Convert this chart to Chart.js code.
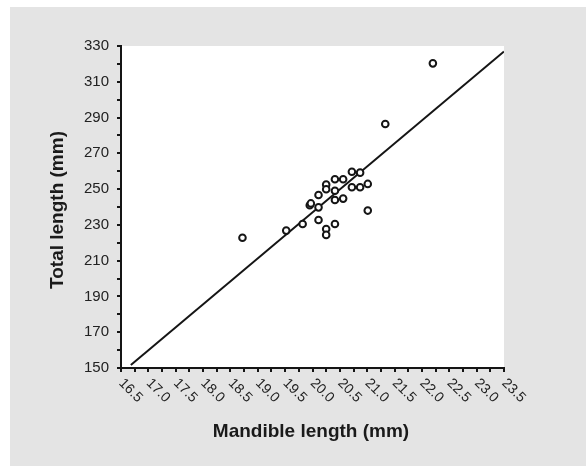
<!DOCTYPE html>
<html>
<head>
<meta charset="utf-8">
<script src="https://cdn.jsdelivr.net/npm/chart.js@4"></script>
<style>
    html, body { margin: 0; padding: 0; background: #ffffff; }
    #wrap { position: absolute; left: 10px; top: 7px; width: 576px; height: 459px; background: #e4e4e4; }
    canvas { display: block; }
</style>
</head>
<body>
<div id="wrap"><canvas id="chart" width="576" height="459"></canvas></div>
<script>
// ============= DATA =============
const mandibleLength = [18.72, 19.52, 19.82, 19.95, 19.97, 20.11, 20.11, 20.11, 20.25, 20.25, 20.25, 20.25,
    20.41, 20.41, 20.41, 20.41, 20.56, 20.56, 20.72, 20.72, 20.87, 20.87, 21.01, 21.01, 21.33, 22.2];
const totalLength = [222.8, 226.8, 230.5, 241.0, 242.0, 239.8, 246.7, 232.7, 227.7, 224.4, 252.5, 249.9,
    255.5, 249.1, 243.9, 230.5, 255.5, 244.7, 259.7, 251.0, 259.2, 251.0, 252.9, 238.0, 286.4, 320.3];

// regression line end points
const fitX = [16.68, 23.5];
const fitY = [151.7, 326.9];

const xTickLabels = ['16.5', '17.0', '17.5', '18.0', '18.5', '19.0', '19.5', '20.0',
    '20.5', '21.0', '21.5', '22.0', '22.5', '23.0', '23.5'];

const FONT = 'Liberation Sans, Arial, sans-serif';

// ============= PLUGINS =============
const plotBackground = {
    id: 'plotBackground',
    beforeDraw(chart) {
        const { ctx, chartArea } = chart;
        ctx.save();
        ctx.fillStyle = '#ffffff';
        ctx.fillRect(chartArea.left, chartArea.top, chartArea.right - chartArea.left, chartArea.bottom - chartArea.top);
        ctx.restore();
    }
};

// rotated x labels + axis titles
const axisText = {
    id: 'axisText',
    afterDraw(chart) {
        const { ctx, chartArea } = chart;
        const xs = chart.scales.x;
        ctx.save();
        ctx.fillStyle = '#222222';
        ctx.font = '14px ' + FONT;
        ctx.textAlign = 'left';
        ctx.textBaseline = 'middle';
        xTickLabels.forEach(label => {
            const px = xs.getPixelForValue(parseFloat(label));
            ctx.save();
            ctx.translate(px, chartArea.bottom + 13);
            ctx.rotate(45 * Math.PI / 180);
            ctx.fillText(label, 0, 0);
            ctx.restore();
        });

        ctx.fillStyle = '#1a1a1a';
        ctx.font = 'bold 19px ' + FONT;
        ctx.textAlign = 'center';
        ctx.textBaseline = 'middle';
        ctx.fillText('Mandible length (mm)', 301, 425);

        ctx.save();
        ctx.translate(48, 203);
        ctx.rotate(-Math.PI / 2);
        ctx.fillText('Total length (mm)', 0, 0);
        ctx.restore();
        ctx.restore();
    }
};

// ============= CHART =============
const ctx = document.getElementById('chart').getContext('2d');
const chart = new Chart(ctx, {
    type: 'scatter',
    data: {
        datasets: [
            {
                label: 'Specimens',
                data: mandibleLength.map((x, i) => ({ x: x, y: totalLength[i] })),
                pointStyle: 'circle',
                pointRadius: 3.3,
                pointBorderWidth: 2,
                pointBorderColor: '#151515',
                pointBackgroundColor: '#ffffff',
                order: 1
            },
            {
                label: 'Fit',
                type: 'line',
                data: fitX.map((x, i) => ({ x: x, y: fitY[i] })),
                borderColor: '#151515',
                borderWidth: 2,
                pointRadius: 0,
                fill: false,
                order: 2
            }
        ]
    },
    options: {
        responsive: false,
        animation: false,
        layout: { padding: { top: 39, right: 82, left: 0, bottom: 0 } },
        plugins: {
            legend: { display: false },
            tooltip: { enabled: false }
        },
        scales: {
            x: {
                type: 'linear',
                min: 16.5,
                max: 23.5,
                afterFit(scale) { scale.height = 98; },
                ticks: { display: false, stepSize: 0.25, autoSkip: false },
                grid: { drawOnChartArea: false, drawTicks: true, tickLength: 4, color: '#151515', lineWidth: 2 },
                border: { display: true, color: '#151515', width: 2 }
            },
            y: {
                type: 'linear',
                min: 150,
                max: 330,
                afterFit(scale) { scale.width = 111; },
                ticks: {
                    stepSize: 10,
                    autoSkip: false,
                    padding: 8,
                    color: '#222222',
                    font: { family: FONT, size: 15 },
                    callback: (v) => (v % 20 === 10 ? String(v) : '')
                },
                grid: { drawOnChartArea: false, drawTicks: true, tickLength: 4, color: '#151515', lineWidth: 2 },
                border: { display: true, color: '#151515', width: 2 }
            }
        }
    },
    plugins: [plotBackground, axisText]
});
</script>
</body>
</html>
